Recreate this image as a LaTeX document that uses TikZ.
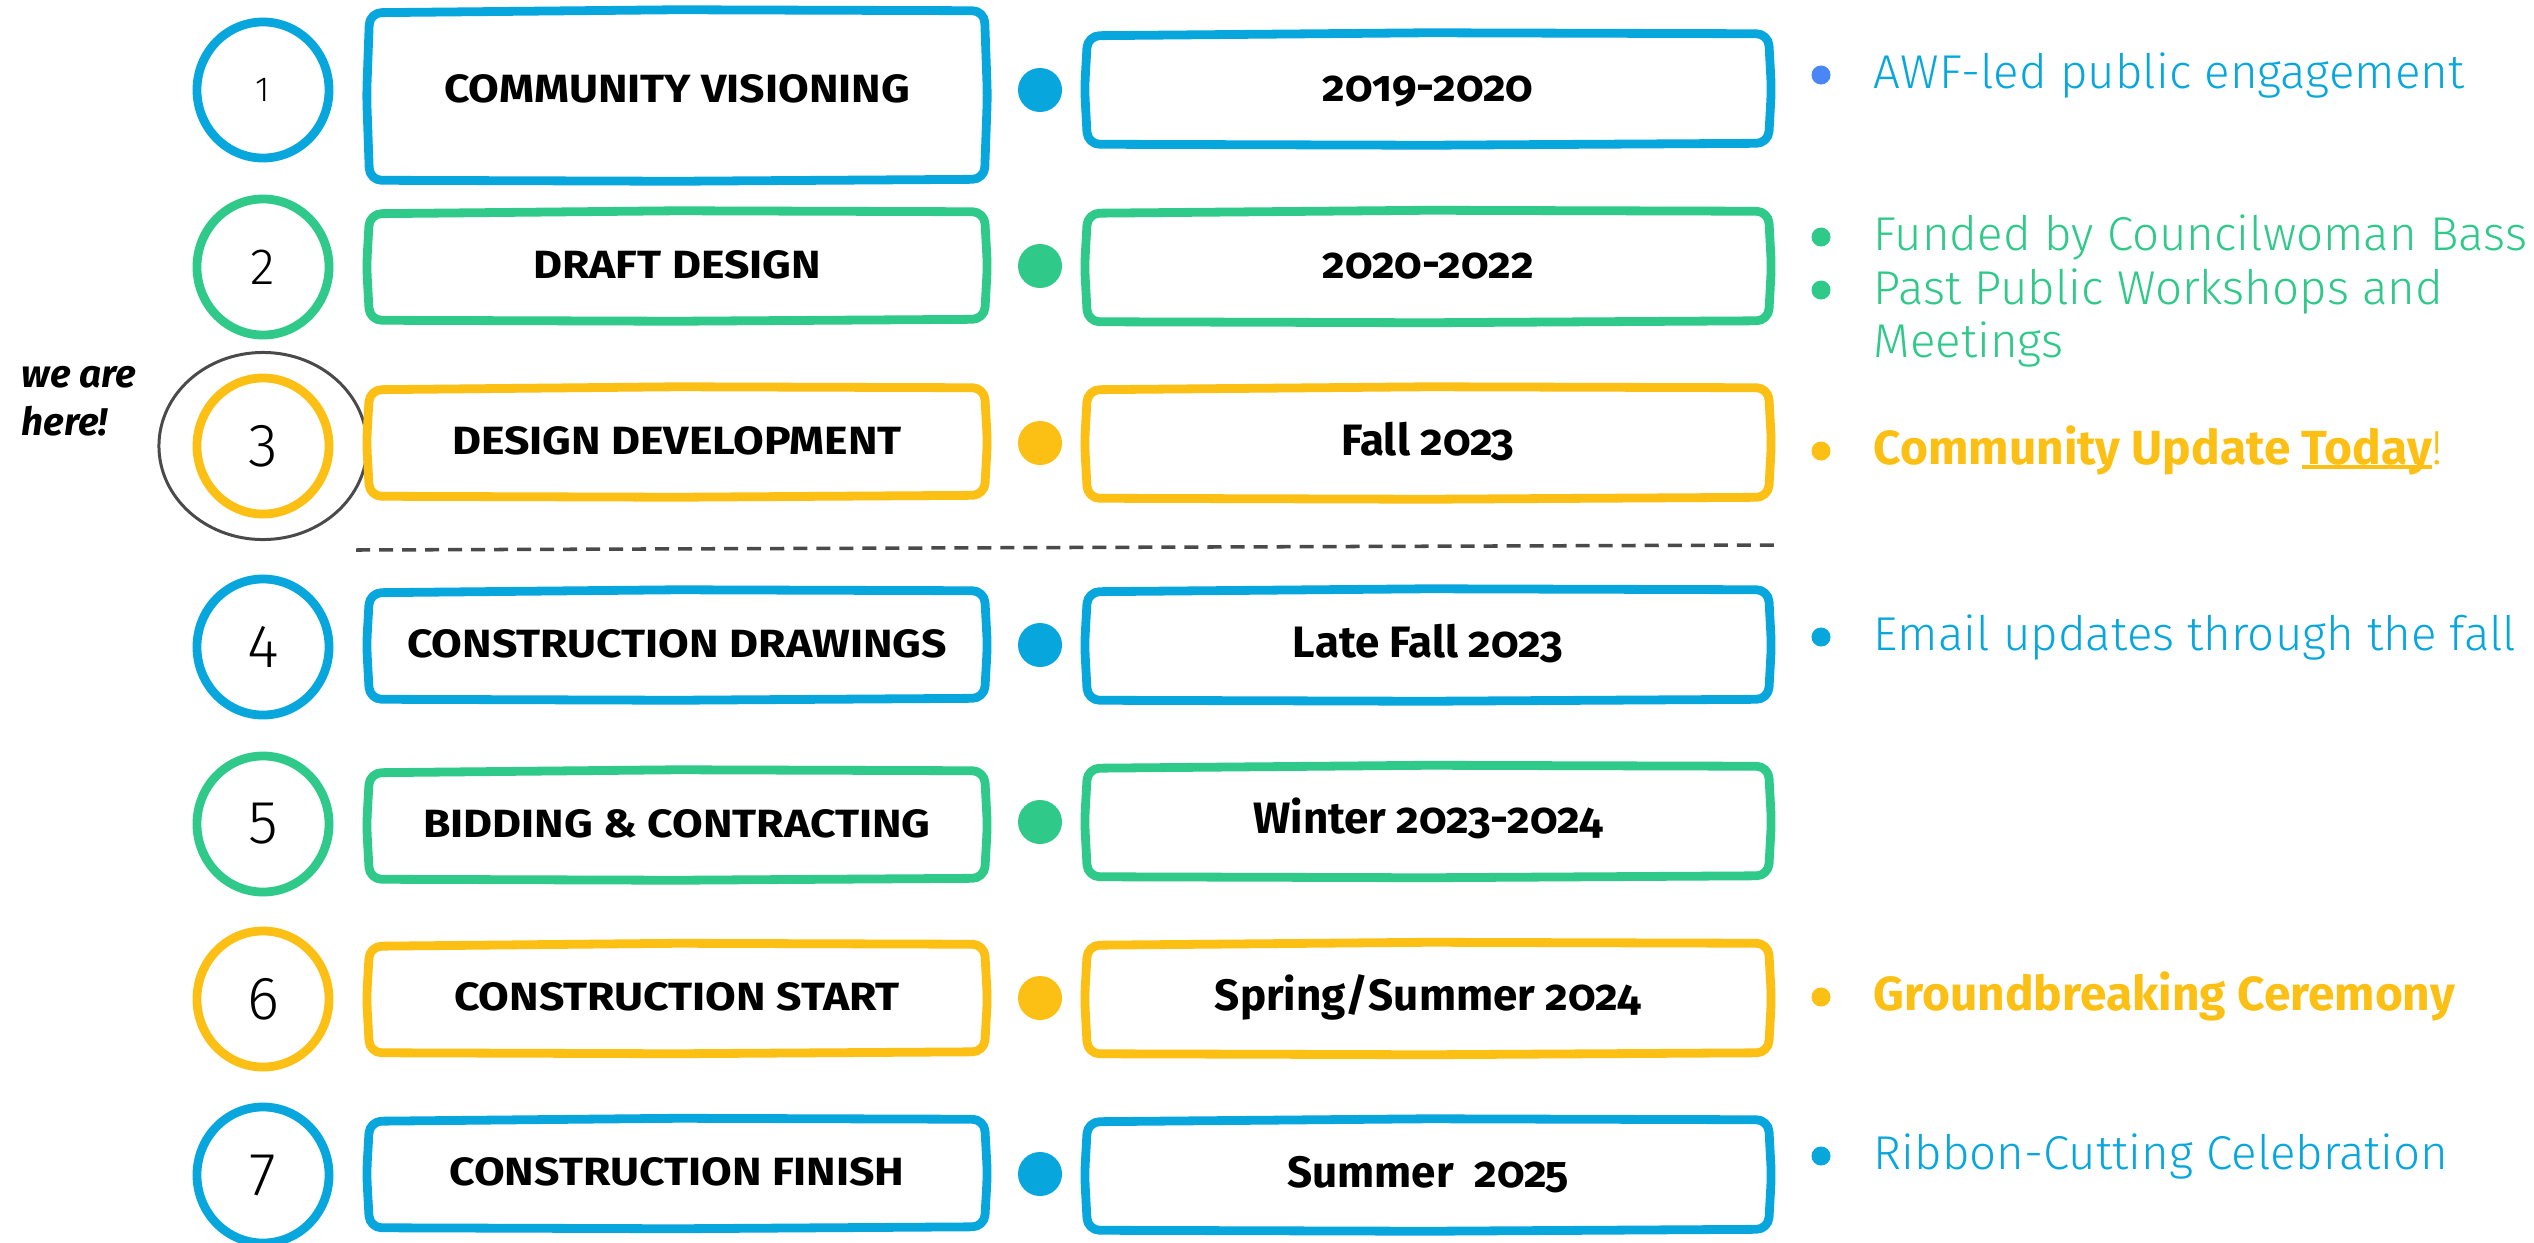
\documentclass[tikz,border=0pt]{standalone}
\usepackage{fontspec}
\setmainfont{Fira Sans}
\newfontfamily\thinf{Fira Sans Light}
\newfontfamily\datef{Fira Sans}[Numbers=OldStyle]
\newfontfamily\stagef{Fira Sans}[FakeStretch=1.13]
\usetikzlibrary{calc}
\definecolor{cblue}{HTML}{07A7DE}
\definecolor{cgreen}{HTML}{2FC98A}
\definecolor{cyellow}{HTML}{FCBF14}
\definecolor{cbul}{HTML}{4A86F5}
\definecolor{cgray}{HTML}{4A4A4A}
\newcommand\sketchrect[2]{%
\draw[#1, boxline]
 ($(#2.north west)+(1,2)$) -- ($(#2.north)+(0,-1)$) -- ($(#2.north east)+(-1,0)$) --
 ($(#2.east)+(2,0)$) -- ($(#2.south east)+(-1,-1)$) -- ($(#2.south)+(0,1)$) --
 ($(#2.south west)+(1,0)$) -- ($(#2.west)+(-2,0)$) -- cycle;}
\newcommand\ring[2]{\draw[#1, line width=2.5pt] (#2.center) ellipse [x radius=0.66cm, y radius=0.68cm];}
\newcommand\ulword[1]{\setbox0\hbox{#1}\rlap{\rule[-0.105em]{\wd0}{0.083em}}\box0}
\tikzset{
 boxline/.style={line width=2.5pt, rounded corners=1.2mm, line join=round},
 stagebox/.style={font=\stagef\fontsize{11.2}{13}\selectfont\bfseries, minimum width=6.15cm, minimum height=1.07cm, text height=0.69em, text depth=0pt, inner sep=0pt},
 datebox/.style={font=\datef\fontsize{12.5}{14}\selectfont\bfseries, minimum width=6.81cm, minimum height=1.09cm, text height=0.69em, text depth=0pt, inner sep=0pt},
 numnode/.style={font=\thinf\fontsize{17.3}{20}\selectfont, inner sep=0pt},
 dotnode/.style={circle, minimum size=0.44cm, inner sep=0pt, draw=none},
 bulnode/.style={circle, minimum size=0.19cm, inner sep=0pt, draw=none},
 bultext/.style={font=\thinf\fontsize{13.5}{15}\selectfont, inner sep=0pt, anchor=base west},
 boldtext/.style={font=\fontsize{13.6}{15}\selectfont\bfseries, inner sep=0pt, anchor=base west},
 heretext/.style={font=\fontsize{11}{13}\selectfont\bfseries\itshape, inner sep=0pt, anchor=base west}
}
\begin{document}
\begin{tikzpicture}[x=0.01cm, y=-0.01cm]
\useasboundingbox[fill=white] (0,0) rectangle (2534,1242);
% numbers
\node[numnode, font=\thinf\fontsize{9.9}{12}\selectfont] (n1) at (263,90) {1};
\node[numnode, font=\thinf\fontsize{14.5}{17}\selectfont] (n2) at (263,267) {2};
\node[numnode] (n3) at (263,446) {3};
\node[numnode] (n4) at (263,647) {4};
\node[numnode] (n5) at (263,824) {5};
\node[numnode] (n6) at (263,999) {6};
\node[numnode] (n7) at (263,1175) {7};
\ring{cblue}{n1}\ring{cgreen}{n2}\ring{cyellow}{n3}\ring{cblue}{n4}\ring{cgreen}{n5}\ring{cyellow}{n6}\ring{cblue}{n7}
\draw[cgray, line width=0.85pt] (n3.center) ellipse [x radius=1.04cm, y radius=0.935cm];
\node[heretext] (here1) at (21,387) {we are};
\node[heretext] (here2) at (21,435) {here!};
% stage boxes
\node[stagebox, minimum height=1.68cm, text depth=0.1cm] (s1) at (677,95.5) {COMMUNITY VISIONING};
\node[stagebox] (s2) at (677,266) {DRAFT DESIGN};
\node[stagebox] (s3) at (677,442) {DESIGN DEVELOPMENT};
\node[stagebox] (s4) at (677,645) {CONSTRUCTION DRAWINGS};
\node[stagebox] (s5) at (677,825) {BIDDING \& CONTRACTING};
\node[stagebox] (s6) at (677,998.5) {CONSTRUCTION START};
\node[stagebox] (s7) at (677,1173.5) {CONSTRUCTION FINISH};
\sketchrect{cblue}{s1}\sketchrect{cgreen}{s2}\sketchrect{cyellow}{s3}\sketchrect{cblue}{s4}
\sketchrect{cgreen}{s5}\sketchrect{cyellow}{s6}\sketchrect{cblue}{s7}
% dots
\node[dotnode, fill=cblue] (d1) at (1040,90) {};
\node[dotnode, fill=cgreen] (d2) at (1040,266) {};
\node[dotnode, fill=cyellow] (d3) at (1040,443) {};
\node[dotnode, fill=cblue] (d4) at (1040,645) {};
\node[dotnode, fill=cgreen] (d5) at (1040,822) {};
\node[dotnode, fill=cyellow] (d6) at (1040,998) {};
\node[dotnode, fill=cblue] (d7) at (1040,1174) {};
% date boxes
\node[datebox] (y1) at (1428,89) {2019-2020};
\node[datebox] (y2) at (1428,266.5) {2020-2022};
\node[datebox] (y3) at (1428,443) {Fall 2023};
\node[datebox] (y4) at (1428,645) {Late Fall 2023};
\node[datebox] (y5) at (1428,821.5) {Winter 2023-2024};
\node[datebox] (y6) at (1428,998.5) {Spring/Summer 2024};
\node[datebox] (y7) at (1428,1175) {Summer~~2025};
\sketchrect{cblue}{y1}\sketchrect{cgreen}{y2}\sketchrect{cyellow}{y3}\sketchrect{cblue}{y4}
\sketchrect{cgreen}{y5}\sketchrect{cyellow}{y6}\sketchrect{cblue}{y7}
% divider
\coordinate (dl) at (356,550);
\coordinate (dr) at (1775,545);
\draw[cgray, line width=1pt, dash pattern=on 0.14cm off 0.09cm] (dl) -- (dr);
% bullets and notes
\node[bulnode, fill=cbul] (b1) at (1821,75) {};
\node[bultext, text=cblue] (t1) at (1873,88) {AWF-led public engagement};
\node[bulnode, fill=cgreen] (b2a) at (1821,237) {};
\node[bultext, text=cgreen] (t2a) at (1873,250) {Funded by Councilwoman Bass};
\node[bulnode, fill=cgreen] (b2b) at (1821,290) {};
\node[bultext, text=cgreen] (t2b) at (1873,304) {Past Public Workshops and};
\node[bultext, text=cgreen] (t2c) at (1873,357) {Meetings};
\node[bulnode, fill=cyellow] (b3) at (1821,451) {};
\node[boldtext, text=cyellow] (t3) at (1873,464) {Community Update \ulword{Today}{\thinf\mdseries !}};
\node[bulnode, fill=cblue] (b4) at (1821,637) {};
\node[bultext, text=cblue] (t4) at (1873,650) {Email updates through the fall};
\node[bulnode, fill=cyellow] (b6) at (1821,997) {};
\node[boldtext, text=cyellow] (t6) at (1873,1010) {Groundbreaking Ceremony};
\node[bulnode, fill=cblue] (b7) at (1821,1156) {};
\node[bultext, text=cblue] (t7) at (1873,1169) {Ribbon-Cutting Celebration};
\end{tikzpicture}
\end{document}
